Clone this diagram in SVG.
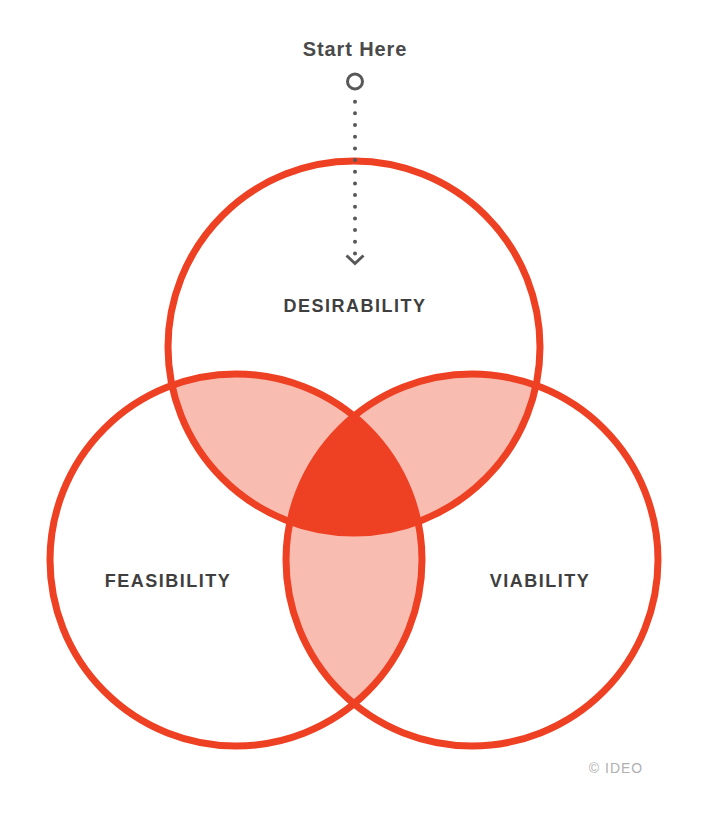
<svg xmlns="http://www.w3.org/2000/svg" width="710" height="817" viewBox="0 0 710 817">
  <style>
    .ring { fill: none; stroke: #EE4023; stroke-width: 7; }
    .pair { fill: #F8BCB1; }
    .core { fill: #EE4023; }
    .label { font-family: "Liberation Sans", Arial, sans-serif; font-weight: bold; font-size: 18px; fill: #3f3f40; text-anchor: middle; letter-spacing: 1.5px; }
    .start { font-family: "Liberation Sans", Arial, sans-serif; font-weight: bold; font-size: 20px; fill: #4a4a4a; text-anchor: middle; letter-spacing: 0.9px; }
    .grey { fill: none; stroke: #58585a; stroke-width: 3; }
    .copy { font-family: "Liberation Sans", Arial, sans-serif; font-size: 14px; fill: #b0b0b0; text-anchor: middle; letter-spacing: 1px; }
  </style>
  <defs>
    <clipPath id="cD"><circle cx="354" cy="347" r="186"/></clipPath>
    <clipPath id="cF"><circle cx="236" cy="560" r="186"/></clipPath>
    <clipPath id="cV"><circle cx="472" cy="560" r="186"/></clipPath>
  </defs>
  <rect width="710" height="817" fill="#ffffff"/>

  <g id="overlaps">
    <circle class="pair" cx="236" cy="560" r="186" clip-path="url(#cD)"/>
    <circle class="pair" cx="472" cy="560" r="186" clip-path="url(#cD)"/>
    <circle class="pair" cx="472" cy="560" r="186" clip-path="url(#cF)"/>
    <g clip-path="url(#cD)">
      <circle class="core" cx="472" cy="560" r="186" clip-path="url(#cF)"/>
    </g>
  </g>

  <g id="desirability">
    <circle class="ring" cx="354" cy="347" r="186"/>
    <text class="label" x="355" y="312">DESIRABILITY</text>
  </g>
  <g id="feasibility">
    <circle class="ring" cx="236" cy="560" r="186"/>
    <text class="label" x="168" y="587">FEASIBILITY</text>
  </g>
  <g id="viability">
    <circle class="ring" cx="472" cy="560" r="186"/>
    <text class="label" x="540" y="587">VIABILITY</text>
  </g>

  <g id="start">
    <text class="start" x="355" y="56">Start Here</text>
    <circle class="grey" cx="355" cy="81.5" r="7.5"/>
  </g>

  <g id="connectors">
    <line x1="355" y1="101.7" x2="355" y2="254" stroke="#58585a" stroke-width="4" stroke-linecap="round" stroke-dasharray="0 11.67"/>
    <polyline class="grey" points="346.5,255.5 355,263.5 363.5,255.5"/>
  </g>

  <text class="copy" x="616" y="773">© IDEO</text>
</svg>
